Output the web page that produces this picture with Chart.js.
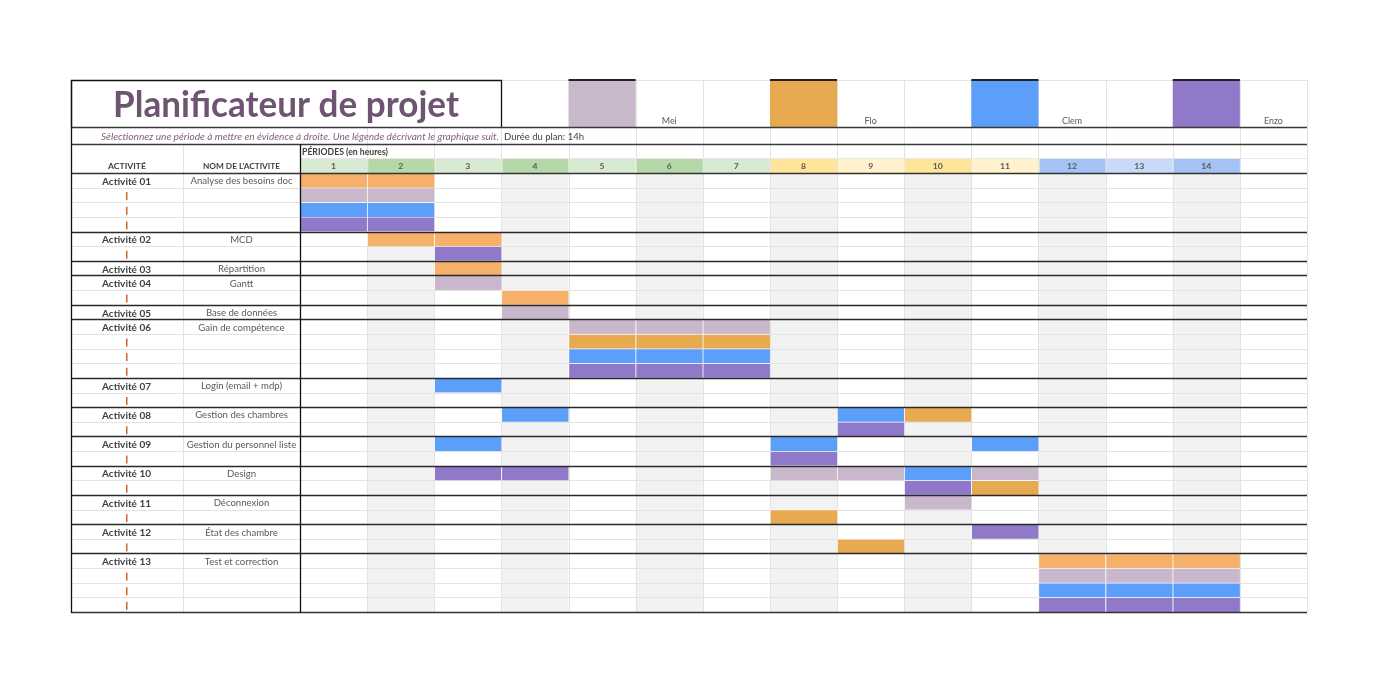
<!DOCTYPE html>
<html><head><meta charset="utf-8">
<script src="https://cdn.jsdelivr.net/npm/chart.js@4.4.0/dist/chart.umd.min.js"></script>
<style>html,body{margin:0;padding:0;background:#fff}#wrap{width:1377px;height:682px}</style>
</head><body><div id="wrap"><canvas id="c" width="1377" height="682"></canvas></div>
<script>
// ---------- DATA ----------
const periods = ['1','2','3','4','5','6','7','8','9','10','11','12','13','14'];
const activities = ['Activité 01','Activité 02','Activité 03','Activité 04','Activité 05','Activité 06','Activité 07','Activité 08','Activité 09','Activité 10','Activité 11','Activité 12','Activité 13'];
const activityNames = ['Analyse des besoins doc','MCD','Répartition','Gantt','Base de données','Gain de compétence','Login (email + mdp)','Gestion des chambres','Gestion du personnel liste','Design','Déconnexion','État des chambre','Test et correction'];
const activityRowCounts = [4,2,1,2,1,4,2,2,2,2,2,2,4];
const people = ['Mei','Flo','Clem','Enzo'];
// cells: [row index (sub-row of the plan), period number]
const meiCells  = [[1,1],[1,2],[7,3],[9,4],[10,5],[10,6],[10,7],[20,8],[20,9],[20,11],[22,10],[27,12],[27,13],[27,14]];
const floCellsLight = [[0,1],[0,2],[4,2],[4,3],[6,3],[8,4],[26,12],[26,13],[26,14]];
const floCells  = [[11,5],[11,6],[11,7],[16,10],[21,11],[23,8],[25,9]];
const clemCells = [[2,1],[2,2],[12,5],[12,6],[12,7],[14,3],[16,4],[16,9],[18,3],[18,8],[18,11],[20,10],[28,12],[28,13],[28,14]];
const enzoCells = [[3,1],[3,2],[5,3],[13,5],[13,6],[13,7],[17,9],[19,8],[20,3],[20,4],[21,10],[24,11],[29,12],[29,13],[29,14]];
const planDuration = 'Durée du plan: 14h';

// ---------- BUILD ----------
const COLORS = {Mei:'#C9B8CB', FloLight:'#F5B06B', Flo:'#E8AA50', Clem:'#5B9FFB', Enzo:'#9079C9'};
const totalRows = activityRowCounts.reduce((a,b)=>a+b,0);
const rowLabels = Array.from({length: totalRows}, (_, i) => 'r' + i);
const groupStarts = [];
{ let s = 0; for (const n of activityRowCounts) { groupStarts.push(s); s += n; } }

function toBars(cells){ return cells.map(([r,p]) => ({x:[p-1, p], y: rowLabels[r]})); }
function ds(label, cells, color){
  return {label, data: toBars(cells), backgroundColor: color, borderColor:'rgba(255,255,255,0.85)',
    borderWidth:{left:1,right:0,top:1,bottom:0}, borderSkipped:false,
    barPercentage:1, categoryPercentage:1, grouped:false};
}

const FONT = 'Lato, "Open Sans", sans-serif';
function setFont(ctx, size, weight='normal', style='normal'){ ctx.font = `${style} ${weight} ${size}px ${FONT}`; }
// horizontal compression ratio so that refText at this size spans targetW
function ratioFor(ctx, refText, size, weight, style, targetW){
  setFont(ctx, size, weight, style);
  return targetW / ctx.measureText(refText).width;
}
function txt(ctx, text, x, y, size, weight, style, ratio, color, align){
  ctx.save(); setFont(ctx, size, weight, style); ctx.fillStyle = color; ctx.textAlign = align; ctx.textBaseline = 'alphabetic';
  ctx.translate(x, y); ctx.scale(ratio, 1); ctx.fillText(text, 0, 0); ctx.restore();
}
function hline(ctx, x1, x2, y, color, w=1){ ctx.strokeStyle=color; ctx.lineWidth=w; ctx.beginPath(); ctx.moveTo(x1, Math.round(y)+0.5); ctx.lineTo(x2, Math.round(y)+0.5); ctx.stroke(); }
function vline(ctx, x, y1, y2, color, w=1){ ctx.strokeStyle=color; ctx.lineWidth=w; ctx.beginPath(); ctx.moveTo(Math.round(x)+0.5, y1); ctx.lineTo(Math.round(x)+0.5, y2); ctx.stroke(); }

const L = 71, COL2 = 183, R = 1307, TOP = 80, TITLE_B = 127, SUB_B = 144, PER_B = 158;

const headerFills = ['#D9EAD3','#B6D7A8','#D9EAD3','#B6D7A8','#D9EAD3','#B6D7A8','#D9EAD3','#FFE599','#FFF2CC','#FFE599','#FFF2CC','#A4C2F4','#C9DAF8','#A4C2F4'];

const sheet = {
  id:'sheet',
  beforeDatasetsDraw(chart){
    const {ctx, chartArea:a, scales:{x}} = chart;
    const rowH = (a.bottom - a.top) / totalRows;
    ctx.save();
    ctx.fillStyle = '#F2F2F2';
    for (let p = 2; p <= 14; p += 2) ctx.fillRect(x.getPixelForValue(p-1), a.top, x.getPixelForValue(p) - x.getPixelForValue(p-1), a.bottom - a.top);
    for (let r = 1; r < totalRows; r++) hline(ctx, L, R, a.top + r*rowH, '#E3E3E3');
    for (let p = 1; p <= 15; p++) vline(ctx, x.getPixelForValue(p), TOP, a.bottom, '#E3E3E3');
    vline(ctx, COL2, SUB_B, a.bottom, '#E3E3E3');
    ctx.restore();
  },
  afterDatasetsDraw(chart){
    const {ctx, chartArea:a, scales:{x}} = chart;
    const rowH = (a.bottom - a.top) / totalRows;
    ctx.save();
    const px = v => x.getPixelForValue(v);
    // ----- title row -----
    const legendCols = [5, 8, 11, 14];
    const legendColors = [COLORS.Mei, COLORS.Flo, COLORS.Clem, COLORS.Enzo];
    hline(ctx, 501, R, TOP, '#E3E3E3');
    legendCols.forEach((p, i) => {
      ctx.fillStyle = legendColors[i];
      ctx.fillRect(px(p-1), TOP, px(p) - px(p-1), TITLE_B - TOP);
      ctx.fillStyle = '#222'; ctx.fillRect(px(p-1), TOP-1, px(p) - px(p-1), 2);
    });
    const rLeg = ratioFor(ctx, 'Clem', 8.5, 'normal', 'normal', 20);
    legendCols.forEach((p, i) => txt(ctx, people[i], (px(p) + px(p+1))/2, 124, 8.5, 'normal', 'normal', rLeg, '#595959', 'center'));
    // title cell
    ctx.fillStyle = '#fff'; ctx.fillRect(L, TOP, 501 - L, TITLE_B - TOP);
    ctx.strokeStyle = '#111'; ctx.lineWidth = 1.3;
    ctx.beginPath(); ctx.moveTo(L+0.5, TITLE_B); ctx.lineTo(L+0.5, TOP+0.5); ctx.lineTo(501.5, TOP+0.5); ctx.lineTo(501.5, TITLE_B); ctx.stroke();
    const title = 'Planificateur de projet';
    const rT = ratioFor(ctx, title, 37, 'bold', 'normal', 346);
    txt(ctx, title, 113, 117, 37, 'bold', 'normal', rT, '#6E5472', 'left');
    hline(ctx, L, R, TITLE_B, '#3A3A3A', 1.4);
    // subtitle row
    const subText = 'Sélectionnez une période à mettre en évidence à droite. Une légende décrivant le graphique suit.';
    txt(ctx, subText, 101, 139.5, 8.8, 'normal', 'italic', ratioFor(ctx, subText, 8.8, 'normal', 'italic', 398), '#7E5F7E', 'left');
    txt(ctx, planDuration, 504, 140, 10, 'normal', 'normal', ratioFor(ctx, planDuration, 10, 'normal', 'normal', 80), '#3F3F3F', 'left');
    hline(ctx, L, R, SUB_B, '#3A3A3A', 1.4);
    // periods header
    const perTxt = 'PÉRIODES (en heures)';
    txt(ctx, perTxt, 302, 154.5, 9, 'bold', 'normal', ratioFor(ctx, perTxt, 9, 'bold', 'normal', 86), '#3F3F3F', 'left');
    periods.forEach((lab, i) => {
      ctx.fillStyle = headerFills[i];
      ctx.fillRect(px(i)+1, PER_B, px(i+1) - px(i) - 1, a.top - PER_B);
    });
    hline(ctx, px(0), R, PER_B, '#E8E8E8');
    const rH = ratioFor(ctx, 'ACTIVITÉ', 8.3, 'bold', 'normal', 38);
    periods.forEach((lab, i) => txt(ctx, lab, (px(i) + px(i+1))/2, 169, 8.3, 'bold', 'normal', rH, '#595959', 'center'));
    txt(ctx, 'ACTIVITÉ', 127, 169, 8.3, 'bold', 'normal', rH, '#3F3F3F', 'center');
    txt(ctx, "NOM DE L'ACTIVITE", 241.5, 169, 8.3, 'bold', 'normal', ratioFor(ctx, "NOM DE L'ACTIVITE", 8.3, 'bold', 'normal', 77), '#3F3F3F', 'center');
    // ----- left columns -----
    const rA = ratioFor(ctx, 'Activité 01', 10.3, 'bold', 'normal', 49);
    const rN = ratioFor(ctx, activityNames[0], 10, 'normal', 'normal', 102);
    activities.forEach((act, g) => {
      const top = a.top + groupStarts[g]*rowH;
      txt(ctx, act, 126.5, top + 11.8, 10.3, 'bold', 'normal', rA, '#3F3F3F', 'center');
      txt(ctx, activityNames[g], 241.5, top + 11.3, 10, 'normal', 'normal', rN, '#595959', 'center');
      ctx.fillStyle = '#D2692B';
      for (let k = 1; k < activityRowCounts[g]; k++) {
        const t = a.top + (groupStarts[g]+k)*rowH;
        ctx.fillRect(126, t + 4.5, 1.5, 8);
      }
      if (g > 0) hline(ctx, L, R, top, '#2A2A2A', 1.3);
    });
    hline(ctx, L, R, a.top, '#333', 1.6);
    hline(ctx, L, R, a.bottom, '#333', 1.6);
    vline(ctx, L, TOP, a.bottom + 1, '#111', 1.3);
    vline(ctx, 300, SUB_B, a.bottom + 1, '#111', 1.3);
    ctx.restore();
  }
};

new Chart(document.getElementById('c'), {
  type: 'bar',
  data: { labels: rowLabels, datasets: [
    ds('Flo', floCellsLight, COLORS.FloLight),
    ds('Flo ', floCells, COLORS.Flo),
    ds('Mei', meiCells, COLORS.Mei),
    ds('Clem', clemCells, COLORS.Clem),
    ds('Enzo', enzoCells, COLORS.Enzo)
  ]},
  options: {
    responsive: false, animation: false, indexAxis: 'y',
    layout: { padding: { left: 300, right: 70, top: 173, bottom: 70 } },
    scales: {
      x: { type: 'linear', min: 0, max: 15, display: false },
      y: { type: 'category', labels: rowLabels, display: false, offset: true }
    },
    plugins: { legend: { display: false }, tooltip: { enabled: false } }
  },
  plugins: [sheet]
});
</script></body></html>
